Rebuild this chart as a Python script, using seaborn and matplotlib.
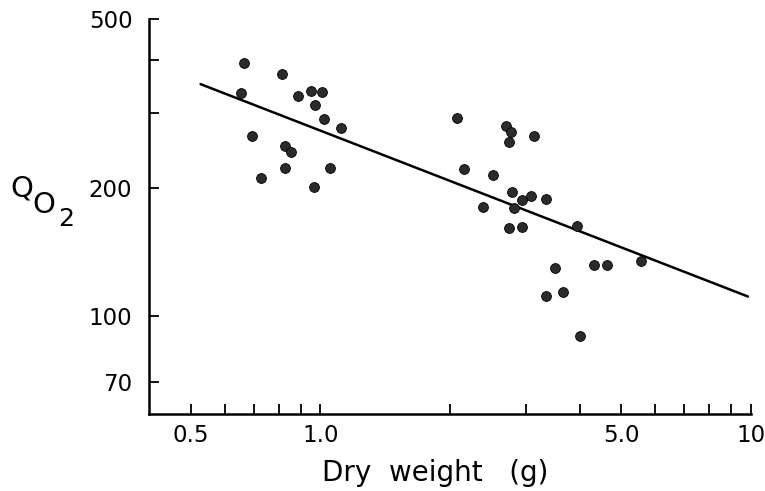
import numpy as np
import pandas as pd
import seaborn as sns
import matplotlib
matplotlib.use("Agg")
import matplotlib.pyplot as plt
from matplotlib.ticker import FixedLocator, FixedFormatter, NullFormatter

# valores (peso seco en g, QO2)
peso_seco = [0.664, 0.815, 0.654, 0.888, 0.953, 1.011, 0.973, 1.022, 1.114, 0.694,
             0.828, 0.856, 0.728, 0.828, 1.050, 0.968,
             2.078, 2.705, 2.764, 2.749, 3.128, 2.159, 2.522, 2.779, 2.933, 3.078,
             3.337, 2.390, 2.809, 2.735, 2.933, 3.943,
             3.503, 4.320, 4.634, 5.564, 3.337, 3.657, 4.007]
qo2 = [394, 371, 335, 329, 338, 336, 314, 291, 277, 266,
       251, 244, 212, 223, 223, 201,
       292, 280, 271, 257, 266, 222, 215, 196, 188, 192,
       189, 181, 180, 161, 162, 163,
       130, 132, 132, 135, 112, 114, 90]

# recta de ajuste (extremos)
recta_x = [0.527, 9.84]
recta_y = [351.5, 111.4]

ticks_x = [0.5, 1.0, 5.0, 10]
etiquetas_x = ["0.5", "1.0", "5.0", "10"]
ticks_x_menores = [0.6, 0.7, 0.8, 0.9, 2, 3, 4, 6, 7, 8, 9]
ticks_y = [70, 100, 200, 500]
etiquetas_y = ["70", "100", "200", "500"]
ticks_y_menores = [300, 400]

df = pd.DataFrame({"peso": peso_seco, "qo2": qo2})
df_recta = pd.DataFrame({"peso": recta_x, "qo2": recta_y})

sns.set_style("ticks")
plt.rcParams["font.family"] = ["DejaVu Sans"]
plt.rcParams["text.color"] = "black"
plt.rcParams["axes.labelcolor"] = "black"

fig = plt.figure(figsize=(7.65, 4.91), dpi=100)
ax = fig.add_axes([0.1948, 0.1568, 0.7869, 0.8045])

sns.lineplot(data=df_recta, x="peso", y="qo2", ax=ax, color="black", linewidth=1.8)
sns.scatterplot(data=df, x="peso", y="qo2", ax=ax, s=50, color="#2b2b2b",
                edgecolor="black", linewidth=0.6, zorder=3)

ax.set_xscale("log")
ax.set_yscale("log")
ax.set_xlim(0.4, 10)
ax.set_ylim(59, 500)

ax.xaxis.set_major_locator(FixedLocator(ticks_x))
ax.xaxis.set_major_formatter(FixedFormatter(etiquetas_x))
ax.xaxis.set_minor_locator(FixedLocator(ticks_x_menores))
ax.xaxis.set_minor_formatter(NullFormatter())
ax.yaxis.set_major_locator(FixedLocator(ticks_y))
ax.yaxis.set_major_formatter(FixedFormatter(etiquetas_y))
ax.yaxis.set_minor_locator(FixedLocator(ticks_y_menores))
ax.yaxis.set_minor_formatter(NullFormatter())

ax.tick_params(which="both", direction="in", length=7, width=1.3,
               colors="black", labelcolor="black")
ax.tick_params(axis="x", which="major", labelsize=16.5, pad=7)
ax.tick_params(axis="y", which="major", labelsize=16.5, pad=12)

sns.despine(ax=ax)
for lado in ["left", "bottom"]:
    ax.spines[lado].set_linewidth(1.8)
    ax.spines[lado].set_color("black")

ax.set_xlabel("Dry  weight   (g)", fontsize=20, color="black")
ax.xaxis.set_label_coords(0.475, -0.115)
ax.set_ylabel("")

# etiqueta Q O2 escalonada
fig.text(22 / 765, 1 - 189 / 491, "Q", fontsize=21, ha="center", va="center")
fig.text(44 / 765, 1 - 205 / 491, "O", fontsize=21, ha="center", va="center")
fig.text(66 / 765, 1 - 219 / 491, "2", fontsize=18, ha="center", va="center")

fig.savefig("out.png", dpi=100)
